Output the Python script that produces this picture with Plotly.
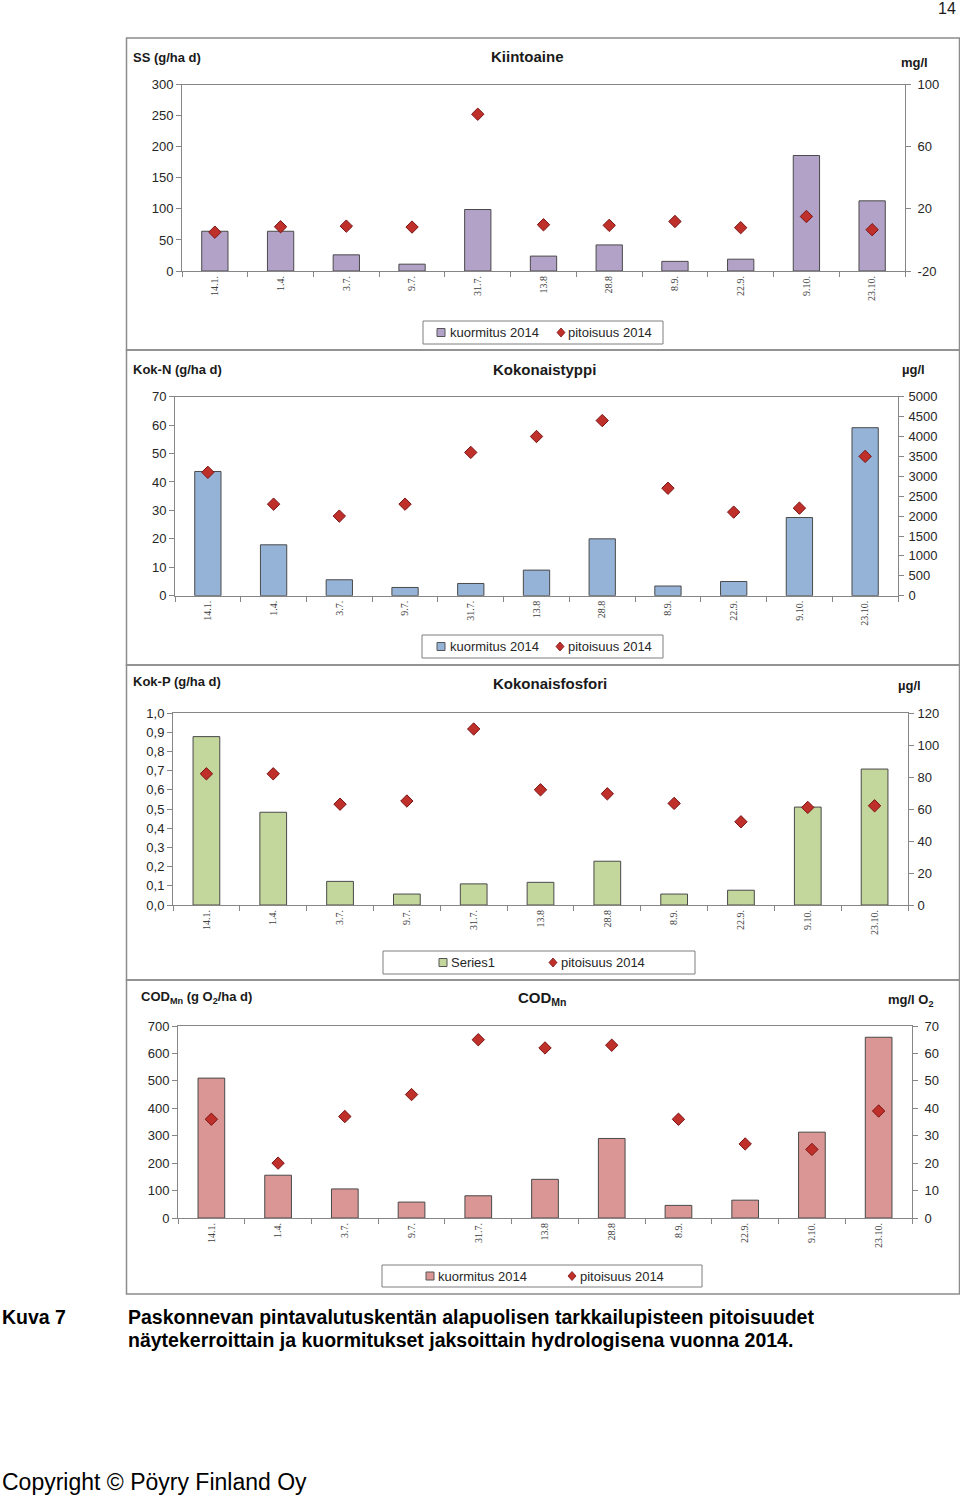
import plotly.graph_objects as go

# ---------------- data ----------------
dates = ["14.1.", "1.4.", "3.7.", "9.7.", "31.7.", "13.8", "28.8", "8.9.", "22.9.", "9.10.", "23.10."]

ss_load = [64, 64, 26, 11, 99, 24, 42, 15.5, 19, 186, 113]
ss_conc = [5, 8.5, 8.9, 8.3, 81, 9.8, 9.4, 11.9, 7.9, 15.1, 6.6]
ss_conc_ticks = [-20, 20, 60, 100]
ss_conc_labels = ["-20", "20", "60", "100"]

n_load = [43.7, 17.9, 5.6, 2.9, 4.3, 9.0, 20.0, 3.4, 5.0, 27.5, 59.1]
n_conc = [3100, 2300, 2000, 2300, 3600, 4000, 4400, 2700, 2100, 2200, 3500]

p_load = [0.877, 0.483, 0.123, 0.057, 0.110, 0.118, 0.228, 0.057, 0.077, 0.510, 0.708]
p_conc = [82, 82, 63, 65, 110, 72, 69.5, 63.5, 52, 61, 62]

cod_load = [510, 156, 106, 58, 81, 141, 290, 46, 65, 313, 659]
cod_conc = [36, 20, 37, 45, 65, 62, 63, 36, 27, 25, 39]

conc_name = "pitoisuus 2014"

W, H = 960, 1498
FONT = "Liberation Sans, Arial, sans-serif"
SERIF = "Liberation Serif, Times New Roman, serif"
AXC = "#868686"
TXT = "#262626"
RED = "#c0302b"
RED_EDGE = "#7a1414"


def px(x):
    return x / W


def py(y):
    return 1 - y / H


charts = [
    dict(load=ss_load, conc=ss_conc, color="#b3a2c7", bar_name="kuormitus 2014",
         plot=(182, 905, 84.7, 271), box=(38, 350),
         yl=dict(range=[0, 300], dtick=50),
         yr=dict(range=[-20, 100], tickmode="array", tickvals=ss_conc_ticks, ticktext=ss_conc_labels),
         rstand=4,
         title="Kiintoaine", title_xy=(527, 56),
         left_lab="SS (g/ha d)", left_xy=(131, 57),
         right_lab="mg/l", right_xy=(914, 63),
         legbox=(423, 663, 321, 344), leg_items=(441, 448, 561, 566)),
    dict(load=n_load, conc=n_conc, color="#95b3d7", bar_name="kuormitus 2014",
         plot=(175, 898, 396.7, 595.7), box=(350, 665),
         yl=dict(range=[0, 70], dtick=10), yr=dict(range=[0, 5000], dtick=500),
         rstand=2,
         title="Kokonaistyppi", title_xy=(544, 369),
         left_lab="Kok-N (g/ha d)", left_xy=(131, 369),
         right_lab="µg/l", right_xy=(913, 369),
         legbox=(422, 663, 635, 658), leg_items=(441, 448, 560, 566)),
    dict(load=p_load, conc=p_conc, color="#c3d69b", bar_name="Series1",
         plot=(173, 908, 713, 905), box=(665, 980),
         yl=dict(range=[0, 1.0], dtick=0.1, tickformat=".1f"), yr=dict(range=[0, 120], dtick=20),
         rstand=1,
         title="Kokonaisfosfori", title_xy=(550, 684),
         left_lab="Kok-P (g/ha d)", left_xy=(131, 681),
         right_lab="µg/l", right_xy=(909, 686),
         legbox=(383, 695, 951, 974), leg_items=(443, 449, 553, 559)),
    dict(load=cod_load, conc=cod_conc, color="#d99694", bar_name="kuormitus 2014",
         plot=(178, 912, 1026, 1218), box=(980, 1294),
         yl=dict(range=[0, 700], dtick=100), yr=dict(range=[0, 70], dtick=10),
         rstand=4,
         title="COD<sub>Mn</sub>", title_xy=(542, 998),
         left_lab="COD<sub>Mn</sub> (g O<sub>2</sub>/ha d)", left_xy=(139, 997),
         right_lab="mg/l O<sub>2</sub>", right_xy=(911, 1000),
         legbox=(382, 702, 1265, 1287), leg_items=(430, 436, 572, 578)),
]

fig = go.Figure()
layout = dict(
    width=W, height=H, autosize=False,
    margin=dict(l=0, r=0, t=0, b=0, pad=0, autoexpand=False),
    paper_bgcolor="white", plot_bgcolor="rgba(0,0,0,0)",
    separators=",.",
    font=dict(family=FONT, size=13, color=TXT),
    bargap=0.6,
    showlegend=False,
)
annotations = []
shapes = []


def ann(text, x, y, size, xanchor="left", color="#1a1a1a"):
    annotations.append(dict(text=text, x=px(x), y=py(y), xref="paper", yref="paper",
                            xanchor=xanchor, yanchor="middle", showarrow=False,
                            font=dict(size=size, color=color)))


for i, c in enumerate(charts):
    k = i + 1
    xref = "x" if k == 1 else f"x{k*2-1}"
    xname = "xaxis" if k == 1 else f"xaxis{k*2-1}"
    yl_id = 2 * k - 1
    yr_id = 2 * k
    yl_ref = "y" if yl_id == 1 else f"y{yl_id}"
    yr_ref = f"y{yr_id}"
    yl_name = "yaxis" if yl_id == 1 else f"yaxis{yl_id}"
    yr_name = f"yaxis{yr_id}"

    x0, x1, y0, y1 = c["plot"]

    fig.add_trace(go.Bar(
        x=dates, y=c["load"], name=c["bar_name"], xaxis=xref, yaxis=yl_ref,
        marker=dict(color=c["color"], line=dict(color="#4a4a4a", width=1)),
    ))
    fig.add_trace(go.Scatter(
        x=dates, y=c["conc"], name=conc_name, mode="markers", xaxis=xref, yaxis=yr_ref,
        marker=dict(symbol="diamond", size=9.5, color=RED, line=dict(color=RED_EDGE, width=1)),
    ))

    layout[xname] = dict(
        domain=[px(x0), px(x1)], anchor=yl_ref, type="category", range=[-0.5, len(dates) - 0.5],
        showline=True, linecolor=AXC, linewidth=1, mirror=True,
        ticks="outside", tickson="boundaries", ticklen=5, tickcolor=AXC,
        tickangle=-90, tickfont=dict(family=SERIF, size=10, color="#404040"),
        showgrid=False, zeroline=False, fixedrange=True,
    )
    layout[yl_name] = dict(
        domain=[py(y1), py(y0)], anchor=xref, side="left",
        showline=True, linecolor=AXC, linewidth=1,
        ticks="outside", ticklen=5, tickcolor=AXC,
        showgrid=False, zeroline=False,
        tickfont=dict(size=13, color=TXT), **c["yl"],
    )
    layout[yr_name] = dict(
        domain=[py(y1), py(y0)], anchor=xref, overlaying=yl_ref, side="right",
        showline=True, linecolor=AXC, linewidth=1,
        ticks="outside", ticklen=5, tickcolor=AXC, ticklabelstandoff=c["rstand"],
        showgrid=False, zeroline=False,
        tickfont=dict(size=13, color=TXT), **c["yr"],
    )

    # legend box + keys
    bx0, bx1, by0, by1 = c["legbox"]
    ly = (by0 + by1) / 2
    shapes.append(dict(type="rect", xref="paper", yref="paper",
                       x0=px(bx0), x1=px(bx1), y0=py(by1), y1=py(by0),
                       line=dict(color="#7f7f7f", width=1)))
    sq, sqt, dm, dmt = c["leg_items"]
    shapes.append(dict(type="rect", xref="paper", yref="paper",
                       x0=px(sq - 4), x1=px(sq + 4), y0=py(ly + 4), y1=py(ly - 4),
                       fillcolor=c["color"], line=dict(color="#555555", width=1)))
    shapes.append(dict(type="path", xref="paper", yref="paper",
                       path=(f"M {px(dm)} {py(ly - 4.5)} L {px(dm + 4)} {py(ly)} "
                             f"L {px(dm)} {py(ly + 4.5)} L {px(dm - 4)} {py(ly)} Z"),
                       fillcolor=RED, line=dict(color=RED_EDGE, width=0.8)))
    ann(c["bar_name"], sqt, ly, 13, color=TXT)
    ann(conc_name, dmt, ly, 13, color=TXT)

    # outer chart box
    shapes.append(dict(type="rect", xref="paper", yref="paper",
                       x0=px(126.5), x1=px(959.5), y0=py(c["box"][1]), y1=py(c["box"][0]),
                       line=dict(color="#8c8c8c", width=1.5)))

    tx, ty = c["title_xy"]
    ann(f"<b>{c['title']}</b>", tx, ty, 15, xanchor="center")
    lx_, ly_ = c["left_xy"]
    ann(f"<b>{c['left_lab']}</b>", lx_, ly_, 13)
    rx, ry = c["right_xy"]
    ann(f"<b>{c['right_lab']}</b>", rx, ry, 13, xanchor="center")

# page texts
ann("14", 958, 9, 16, xanchor="right")
ann("<b>Kuva 7</b>", 0, 1317, 19.5, color="#000000")
ann("<b>Paskonnevan pintavalutuskentän alapuolisen tarkkailupisteen pitoisuudet</b>", 126, 1317, 19.5,
    color="#000000")
ann("<b>näytekerroittain ja kuormitukset jaksoittain hydrologisena vuonna 2014.</b>", 126, 1340, 19.5,
    color="#000000")
ann("Copyright © Pöyry Finland Oy", 0, 1482, 23, color="#000000")

layout["annotations"] = annotations
layout["shapes"] = shapes
fig.update_layout(**layout)

fig.write_html("out.html", config={"displayModeBar": False},
               post_script="document.body.style.margin='0';")
